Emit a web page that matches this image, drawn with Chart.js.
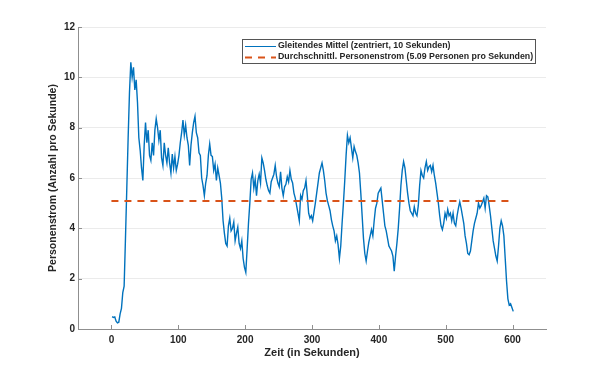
<!DOCTYPE html>
<html><head><meta charset="utf-8">
<script src="https://cdn.jsdelivr.net/npm/chart.js@4.4.0/dist/chart.umd.min.js"></script>
<style>html,body{margin:0;padding:0;background:#fff;}canvas{display:block}</style>
</head><body>
<canvas id="c" width="604" height="370"></canvas>
<script>
// Sample grid (seconds) for the moving-average series
const timeSeconds = Array.from({length: 301}, (_, i) => 1 + i * 2);
// Gleitendes Mittel values
const flowValues = [
 0.49,0.46,0.48,0.31,0.24,0.27,0.6,0.82,1.45,1.7,3.6,
 5.6,7.6,9.4,10.6,10.0,10.4,9.5,9.9,9.0,
 7.6,7.1,6.4,5.9,7.3,8.2,7.4,7.9,6.9,6.7,7.4,6.9,7.9,8.35,8.0,7.5,7.9,6.8,6.5,7.4,6.9,6.6,7.2,6.6,6.2,6.95,6.4,6.85,6.3,6.55,
 6.9,7.4,7.8,8.3,7.7,8.1,7.6,7.3,6.5,7.3,7.8,8.2,8.45,7.8,7.6,7.0,6.9,6.0,5.7,5.3,5.8,6.1,6.9,7.35,6.9,6.85,6.3,6.55,5.9,6.4,6.1,5.8,5.2,4.3,3.8,3.4,3.3,4.1,4.4,3.9,4.0,4.25,3.5,3.8,4.05,3.4,3.2,3.5,2.8,2.45,
 2.25,3.2,4.2,5.0,5.95,6.2,5.6,5.95,5.3,5.9,
 6.15,5.8,6.8,6.6,6.3,5.95,5.7,5.5,5.4,5.85,
 6.0,6.15,6.5,6.05,5.8,5.65,6.25,5.6,5.3,5.65,
 5.75,6.05,5.85,6.3,5.95,5.8,5.4,5.2,4.9,4.6,
 4.3,5.3,5.15,5.5,5.6,5.9,5.3,4.6,4.4,4.5,
 4.3,4.65,5.0,5.4,5.8,6.2,6.4,6.6,6.3,5.9,
 5.4,5.1,4.9,4.7,4.35,4.1,3.9,3.5,3.7,3.35,
 2.8,3.3,4.2,5.0,5.9,6.9,7.7,7.4,7.6,7.2,
 6.8,7.25,7.05,6.9,6.6,6.2,5.4,4.5,3.6,3.0,
 2.7,3.1,3.45,3.7,3.95,3.7,4.3,4.8,5.0,5.4,
 5.5,5.6,5.1,4.6,4.1,3.9,3.6,3.3,3.2,3.1,
 2.9,2.3,2.9,3.4,4.0,4.8,5.7,6.3,6.65,6.4,
 5.9,5.4,5.0,4.7,4.6,4.5,4.85,4.6,4.5,4.9,
 5.7,6.3,6.1,6.0,6.4,6.65,6.3,6.45,6.5,6.25,
 6.5,6.1,5.8,5.4,5.0,4.5,4.1,3.95,4.2,4.6,
 4.4,4.75,4.5,4.6,4.3,4.6,4.2,4.1,4.5,4.8,
 5.05,4.8,4.5,4.2,3.7,3.4,3.0,2.95,3.1,3.5,
 3.9,4.2,4.4,4.6,5.0,4.8,4.9,5.05,5.2,4.8,
 5.3,5.25,4.9,4.5,4.0,3.5,3.2,2.9,2.7,3.3,
 4.0,4.3,4.1,3.7,2.8,1.9,1.2,0.95,1.0,0.85,
 0.7
];
const avgStart = 0, avgEnd = 600;
const avgValue = 5.09;
const xTicks = [0, 100, 200, 300, 400, 500, 600];
const yTicks = [0, 2, 4, 6, 8, 10, 12];
const seriesLabels = [
  'Gleitendes Mittel (zentriert, 10 Sekunden)',
  'Durchschnittl. Personenstrom (5.09 Personen pro Sekunden)'
];
const xTitle = 'Zeit (in Sekunden)';
const yTitle = 'Personenstrom (Anzahl pro Sekunde)';

const BLUE = '#0072BD', ORANGE = '#D95319', AXIS = '#8f8f8f', TXT = '#262626';
const FONT = "'Liberation Sans', Arial, Helvetica, sans-serif";

const innerTicks = {
  id: 'innerTicks',
  afterDraw(chart) {
    const ctx = chart.ctx, xs = chart.scales.x, ys = chart.scales.y, a = chart.chartArea;
    ctx.save();
    ctx.strokeStyle = AXIS; ctx.lineWidth = 1;
    ctx.beginPath();
    xTicks.forEach(v => { const p = Math.round(xs.getPixelForValue(v)) + 0.5; ctx.moveTo(p, a.bottom); ctx.lineTo(p, a.bottom - 4); });
    yTicks.forEach(v => { const p = Math.round(ys.getPixelForValue(v)) + 0.5; ctx.moveTo(a.left, p); ctx.lineTo(a.left + 4, p); });
    ctx.stroke();
    ctx.restore();
  }
};

const boxLegend = {
  id: 'boxLegend',
  afterDraw(chart) {
    const ctx = chart.ctx;
    const bx = 242.5, by = 39.5, bw = 293, bh = 24;
    ctx.save();
    ctx.fillStyle = '#fff'; ctx.fillRect(bx, by, bw, bh);
    ctx.strokeStyle = '#555'; ctx.lineWidth = 1; ctx.strokeRect(bx, by, bw, bh);
    const ds = chart.data.datasets;
    const rows = [46, 56.5];
    ctx.font = "bold 8.8px " + FONT;
    ctx.textBaseline = 'middle'; ctx.textAlign = 'left'; ctx.fillStyle = TXT;
    ds.forEach((d, i) => {
      ctx.save();
      ctx.strokeStyle = d.borderColor; ctx.lineWidth = i === 0 ? 1 : 2;
      if (d.borderDash) ctx.setLineDash(d.borderDash);
      ctx.beginPath(); ctx.moveTo(245, Math.round(rows[i]) + 0.5); ctx.lineTo(276, Math.round(rows[i]) + 0.5); ctx.stroke();
      ctx.restore();
      ctx.fillText(d.label, 278, rows[i]);
    });
    ctx.restore();
  }
};

new Chart(document.getElementById('c'), {
  type: 'line',
  data: {
    datasets: [
      { label: seriesLabels[0], data: timeSeconds.map((t, i) => ({x: t, y: flowValues[i]})),
        borderColor: BLUE, borderWidth: 1.4, pointRadius: 0, tension: 0, fill: false, order: 1 },
      { label: seriesLabels[1], data: [{x: avgStart, y: avgValue}, {x: avgEnd, y: avgValue}],
        borderColor: ORANGE, borderWidth: 2, borderDash: [7, 6], pointRadius: 0, fill: false, order: 0 }
    ]
  },
  options: {
    responsive: false, animation: false, devicePixelRatio: 1,
    layout: { padding: { left: 40, right: 58, top: 27, bottom: 0 } },
    plugins: { legend: { display: false }, tooltip: { enabled: false } },
    scales: {
      x: {
        type: 'linear', min: -50, max: 650,
        afterBuildTicks: s => { s.ticks = xTicks.map(v => ({ value: v })); },
        afterFit: s => { s.height = 41; },
        grid: { display: false, drawTicks: false },
        border: { display: true, color: AXIS, width: 1 },
        ticks: { color: TXT, padding: 5, maxRotation: 0, font: { family: FONT, size: 10, weight: 'bold' } },
        title: { display: true, text: xTitle, color: TXT, font: { family: FONT, size: 11, weight: 'bold' }, padding: { top: 0, bottom: 10 } }
      },
      y: {
        type: 'linear', min: 0, max: 12,
        afterBuildTicks: s => { s.ticks = yTicks.map(v => ({ value: v })); },
        afterFit: s => { s.width = 38; },
        grid: { color: '#ebebeb', drawTicks: false },
        border: { display: true, color: AXIS, width: 1 },
        ticks: { color: TXT, padding: 3, font: { family: FONT, size: 10, weight: 'bold' } },
        title: { display: true, text: yTitle, color: TXT, font: { family: FONT, size: 10.5, weight: 'bold' }, padding: { top: 7, bottom: 0 } }
      }
    }
  },
  plugins: [innerTicks, boxLegend]
});
</script>
</body></html>
